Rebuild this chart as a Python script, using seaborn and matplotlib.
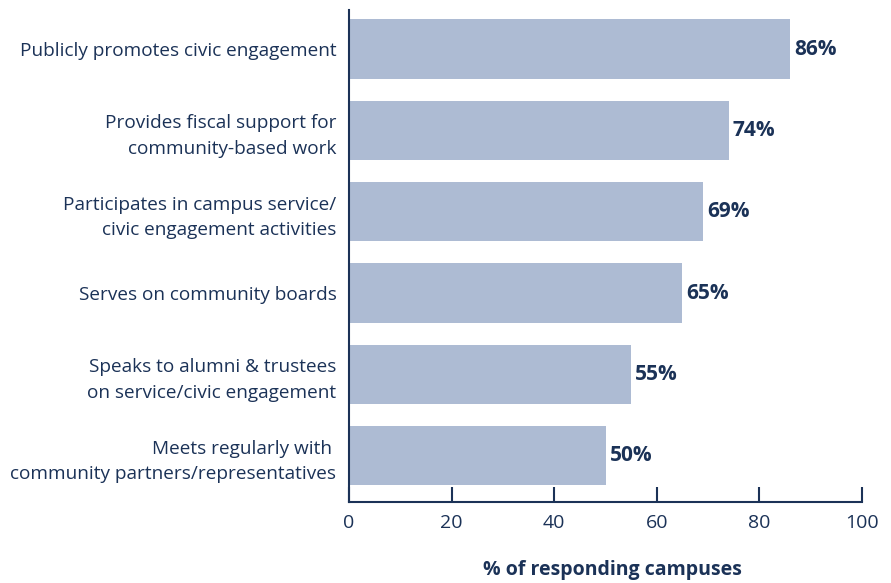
import matplotlib
matplotlib.use("Agg")
import matplotlib.pyplot as plt
import seaborn as sns
import pandas as pd

categories = [
    "Publicly promotes civic engagement",
    "Provides fiscal support for\ncommunity-based work",
    "Participates in campus service/\ncivic engagement activities",
    "Serves on community boards",
    "Speaks to alumni & trustees\non service/civic engagement",
    "Meets regularly with \ncommunity partners/representatives",
]
values = [86, 74, 69, 65, 55, 50]
xticks = [0, 20, 40, 60, 80, 100]
xlabel = "% of responding campuses"

navy = "#1b3257"
bar_color = "#adbbd3"

sns.set_theme(style="white")
plt.rcParams["font.family"] = ["Open Sans", "DejaVu Sans"]

df = pd.DataFrame({"cat": categories, "val": values})

fig = plt.figure(figsize=(8.91, 5.83), dpi=100)
ax = fig.add_axes([349/891, 1-502/583, (862-349)/891, (502-10)/583])
sns.barplot(data=df, x="val", y="cat", orient="h", color=bar_color,
            saturation=1, width=0.73, ax=ax, edgecolor="none")

ax.set_xlim(0, 100)
ax.set_ylim(5.57, -0.48)
ax.set_xticks(xticks)
ax.set_xticklabels([str(t) for t in xticks], fontsize=14, color=navy)
ax.tick_params(axis="x", bottom=True, direction="in", length=11, width=1.5,
               color=navy, pad=9)
ax.tick_params(axis="y", left=False, length=0, pad=9)
for lab in ax.get_yticklabels():
    lab.set_fontsize(13.7)
    lab.set_color(navy)
    lab.set_horizontalalignment("right")
    lab.set_multialignment("right")
    lab.set_linespacing(1.55)
ax.set_ylabel("")
ax.set_xlabel(xlabel, fontsize=14, fontweight="bold", color=navy)
ax.xaxis.set_label_coords((612-349)/(862-349), -(570-502)/(502-10))
ax.xaxis.label.set_va("center")

for s in ["top", "right"]:
    ax.spines[s].set_visible(False)
for s in ["left", "bottom"]:
    ax.spines[s].set_color(navy)
    ax.spines[s].set_linewidth(1.5)

for i, v in enumerate(values):
    ax.text(v + 0.8, i, f"{v}%", va="center", ha="left", fontsize=15,
            fontweight="bold", color=navy)

fig.savefig("out.png", dpi=100)
